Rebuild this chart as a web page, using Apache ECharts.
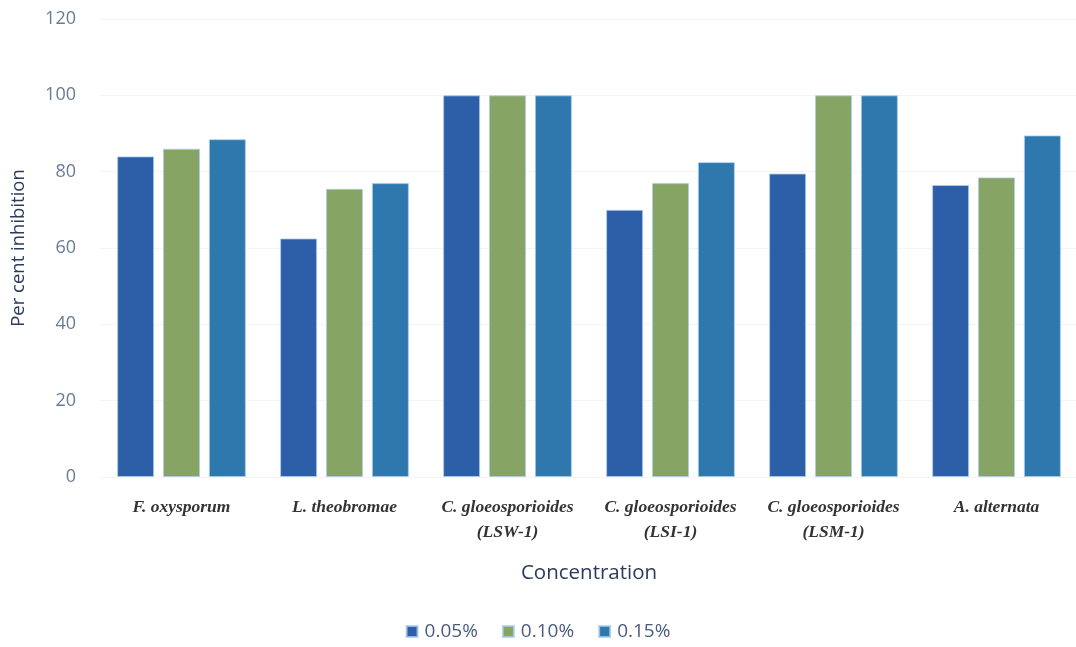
<!DOCTYPE html>
<html><head><meta charset="utf-8">
<script src="https://cdn.jsdelivr.net/npm/echarts@6/dist/echarts.min.js"></script>
<style>html,body{margin:0;padding:0;background:#fff}#c{width:1076px;height:647px}</style>
</head><body><div id="c"></div>
<script>
const categories = ['F. oxysporum','L. theobromae','C. gloeosporioides\n(LSW-1)','C. gloeosporioides\n(LSI-1)','C. gloeosporioides\n(LSM-1)','A. alternata'];
const seriesNames = ['0.05%','0.10%','0.15%'];
const s005 = [84, 62.5, 100, 70, 79.5, 76.5];
const s010 = [86, 75.5, 100, 77, 100, 78.5];
const s015 = [88.5, 77, 100, 82.5, 100, 89.5];
const yTicks = [0,20,40,60,80,100,120];
const colors = ['#2d5fa8','#86a464','#2e78ae'];

const chart = echarts.init(document.getElementById('c'));
const mk = (name, data, i) => ({
  name, type:'bar', data, barWidth:37, barGap:'24%',
  itemStyle:{color:colors[i], borderColor:'rgba(170,205,235,0.8)', borderWidth:1}
});
chart.setOption({
  animation:false,
  backgroundColor:'#fff',
  grid:{left:100, top:19, width:978, height:458, outerBoundsMode:'none', containLabel:false},
  xAxis:{type:'category', data:categories,
    axisLine:{show:false}, axisTick:{show:false},
    name:'Concentration', nameLocation:'middle', nameGap:86,
    nameTextStyle:{fontFamily:'Open Sans', fontSize:20.5, color:'#2b3b5c'},
    axisLabel:{interval:0, margin:18, fontFamily:'Liberation Serif', fontStyle:'italic', fontWeight:'bold', fontSize:17.5, color:'#333', lineHeight:25}
  },
  yAxis:{type:'value', min:yTicks[0], max:yTicks[yTicks.length-1], interval:20,
    axisLine:{show:false}, axisTick:{show:false},
    splitLine:{lineStyle:{color:'#f4f4f4'}},
    name:'Per cent inhibition', nameLocation:'middle', nameGap:72, nameRotate:90,
    nameTextStyle:{fontFamily:'Open Sans', fontSize:18.5, color:'#2b3b5c'},
    axisLabel:{margin:24, fontFamily:'Open Sans', fontSize:18, color:'#6b7b96'}
  },
  legend:{data:seriesNames, bottom:1, left:'center', itemWidth:11, itemHeight:11, itemGap:24,
    icon:'rect', textStyle:{fontFamily:'Open Sans', fontSize:19, color:'#4a5a80', padding:[0,0,0,2]}},
  series:[mk(seriesNames[0], s005, 0), mk(seriesNames[1], s010, 1), mk(seriesNames[2], s015, 2)]
});
</script></body></html>
